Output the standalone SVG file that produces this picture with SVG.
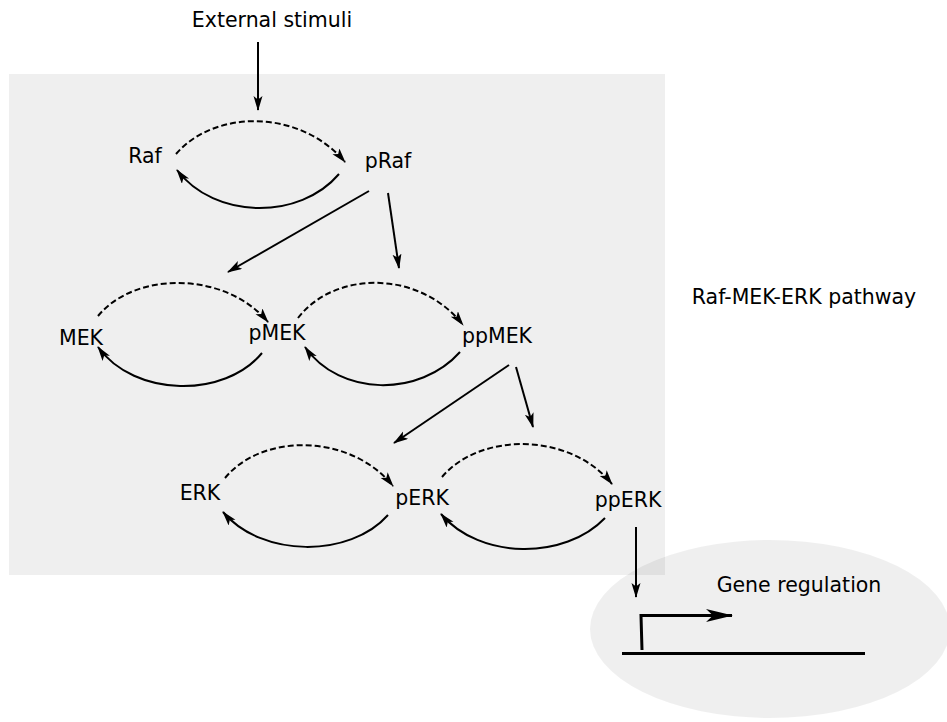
<svg xmlns="http://www.w3.org/2000/svg" width="947" height="722" viewBox="0 0 947 722">
<style>
text{font-family:"DejaVu Sans",sans-serif;font-size:20.5px;fill:#000}
.c{fill:none;stroke:#000;stroke-width:2;marker-end:url(#ah)}
.d{stroke-dasharray:6,3}
.bg{fill:#000;fill-opacity:0.063}
</style>
<defs>
<marker id="ah" markerUnits="userSpaceOnUse" markerWidth="18" markerHeight="12" refX="14" refY="4.5" orient="auto">
<path d="M0,0 L15,4.5 L0,9 L3.5,4.5 Z" fill="#000"/>
</marker>
<marker id="ah2" markerUnits="userSpaceOnUse" markerWidth="30" markerHeight="16" refX="26" refY="6.5" orient="auto">
<path d="M0,0 L27,6.5 L0,13 L7,6.5 Z" fill="#000"/>
</marker>
</defs>
<rect id="pathway-box" class="bg" x="9" y="74" width="656" height="501"/>
<ellipse id="nucleus" class="bg" cx="770" cy="629" rx="180" ry="89"/>
<g id="stimuli"><text x="272" y="27" text-anchor="middle">External stimuli</text></g>
<g id="raf"><text x="145" y="163" text-anchor="middle">Raf</text></g>
<g id="praf"><text x="388" y="168" text-anchor="middle">pRaf</text></g>
<g id="mek"><text x="81" y="345" text-anchor="middle">MEK</text></g>
<g id="pmek"><text x="277" y="340" text-anchor="middle">pMEK</text></g>
<g id="ppmek"><text x="497" y="343" text-anchor="middle">ppMEK</text></g>
<g id="erk"><text x="200" y="500" text-anchor="middle">ERK</text></g>
<g id="perk"><text x="422" y="505" text-anchor="middle">pERK</text></g>
<g id="pperk"><text x="628" y="507" text-anchor="middle">ppERK</text></g>
<g id="pathway-label"><text x="804" y="304" text-anchor="middle">Raf-MEK-ERK pathway</text></g>
<g id="gene">
<text x="799" y="592" text-anchor="middle">Gene regulation</text>
<path d="M622,653.5 L865,653.5" fill="none" stroke="#000" stroke-width="3"/>
<path d="M642,650 L641,615.5 L732,615.5" fill="none" stroke="#000" stroke-width="3" marker-end="url(#ah2)"/>
</g>
<g id="connectors">
<path class="c" d="M258,42 L258,110"/>
<path class="c d" d="M176,154 C215,109 300,109 345,162"/>
<path class="c" d="M339,174 C300,220 215,220 177,170"/>
<path class="c" d="M369,191 L228,272"/>
<path class="c" d="M388,193 L399,268"/>
<path class="c d" d="M98,316 C135,271 225,271 268,322"/>
<path class="c" d="M262,353 C225,398 135,398 98,347"/>
<path class="c d" d="M298,318 C335,270 420,270 463,325"/>
<path class="c" d="M460,352 C420,397 340,397 305,347"/>
<path class="c" d="M509,365 L394,443"/>
<path class="c" d="M516,367 L533,427"/>
<path class="c d" d="M225,478 C262,433 350,433 393,486"/>
<path class="c" d="M388,515 C350,558 262,558 223,512"/>
<path class="c d" d="M442,477 C480,432 570,432 612,484"/>
<path class="c" d="M605,518 C565,560 480,560 441,514"/>
<path class="c" d="M636,527 L636,597"/>
</g>
</svg>
